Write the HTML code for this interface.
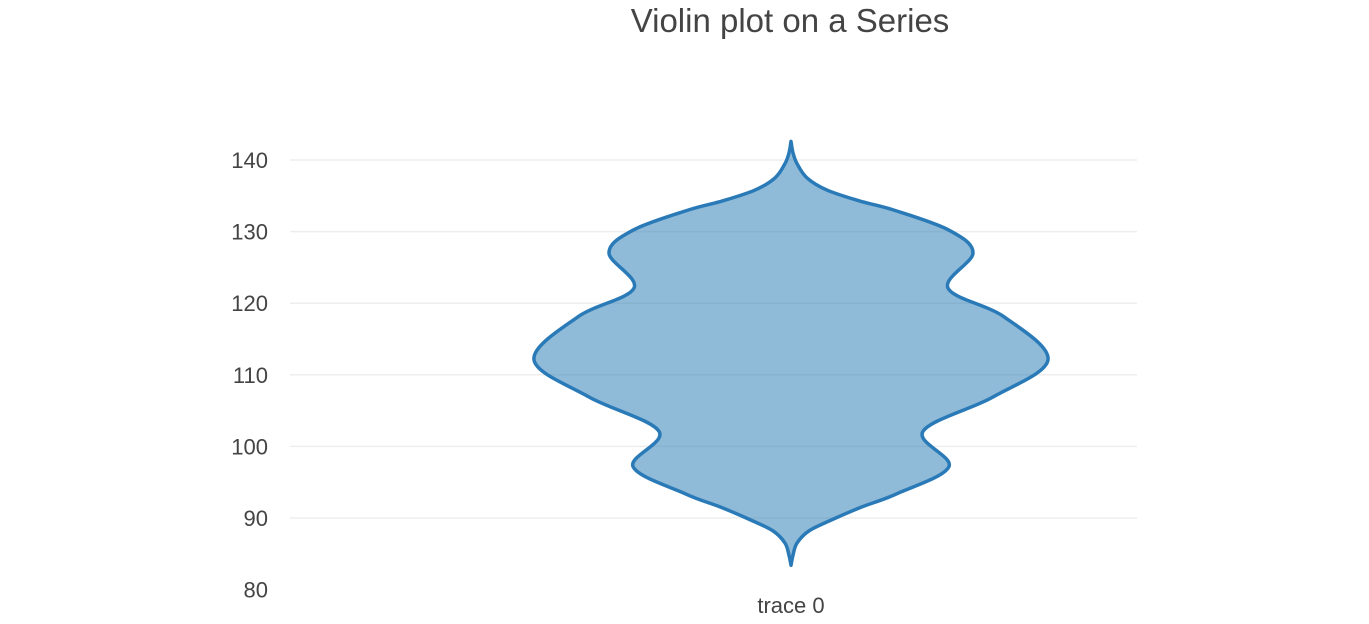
<!DOCTYPE html>
<html><head><meta charset="utf-8"><style>
html,body{margin:0;padding:0;background:#fff;width:1369px;height:624px;overflow:hidden}
svg{display:block;font-family:"Liberation Sans",sans-serif}
</style></head><body>
<svg id="chart" width="1369" height="624">
<text x="790" y="32" text-anchor="middle" font-size="33" fill="#444">Violin plot on a Series</text>
<g id="grid"></g>
<g id="yticks"></g>
<g id="violin"></g>
<text x="791" y="613" text-anchor="middle" font-size="22" fill="#444">trace 0</text>
</svg>
<script>
const yTicks=[80,90,100,110,120,130,140];
const kdeValues=[142.6,141,139.5,137.5,135.8,134.3,133.0,130.2,127.0,122.1,118.1,112.1,106.9,102.1,97.2,93.4,91.5,89.7,88.2,86.5,84.8,83.4];
const kdeWidth=[0,2,6,16,36,68,103,158,182,157,213,257,202,132,158,106,70,40,18,6,2,0];
const category='trace 0';
const NS='http://www.w3.org/2000/svg';
function yScale(v){return 160+(140-v)*7.16;}
function wScale(d){return d;}
const cx=791;
const grid=document.getElementById('grid'),yt=document.getElementById('yticks');
yTicks.forEach(t=>{
  if(t>80){const l=document.createElementNS(NS,'line');
  
  
  l.setAttribute('x1',290);l.setAttribute('x2',1137);l.setAttribute('y1',yScale(t));l.setAttribute('y2',yScale(t));
  l.setAttribute('stroke','#eee');l.setAttribute('stroke-width','1.5');grid.appendChild(l);}
  const tx=document.createElementNS(NS,'text');
  
  
  tx.setAttribute('x',268);tx.setAttribute('y',yScale(t)+8);tx.setAttribute('text-anchor','end');
  tx.setAttribute('font-size','22');tx.setAttribute('fill','#444');tx.textContent=t;yt.appendChild(tx);
});
function catmull(pts){
  let d='M'+pts[0][0]+','+pts[0][1];
  for(let i=0;i<pts.length-1;i++){
    const p0=pts[Math.max(0,i-1)],p1=pts[i],p2=pts[i+1],p3=pts[Math.min(pts.length-1,i+2)];
    const c1=[p1[0]+(p2[0]-p0[0])/6,p1[1]+(p2[1]-p0[1])/6];
    const c2=[p2[0]-(p3[0]-p1[0])/6,p2[1]-(p3[1]-p1[1])/6];
    d+='C'+c1[0]+','+c1[1]+' '+c2[0]+','+c2[1]+' '+p2[0]+','+p2[1];
  }
  return d;
}
const right=kdeValues.map((v,i)=>[cx+wScale(kdeWidth[i]),yScale(v)]);
const left=kdeValues.map((v,i)=>[cx-wScale(kdeWidth[i]),yScale(v)]).reverse();
const dR=catmull(right), dL=catmull(left).replace(/^M[^C]*/,'');
const p=document.createElementNS(NS,'path');


p.setAttribute('d',dR+dL+'Z');
p.setAttribute('fill','rgba(31,119,180,0.5)');p.setAttribute('stroke','#2a7ab8');p.setAttribute('stroke-width','3.5');p.setAttribute('stroke-linejoin','round');
document.getElementById('violin').appendChild(p);
</script>
</body></html>
